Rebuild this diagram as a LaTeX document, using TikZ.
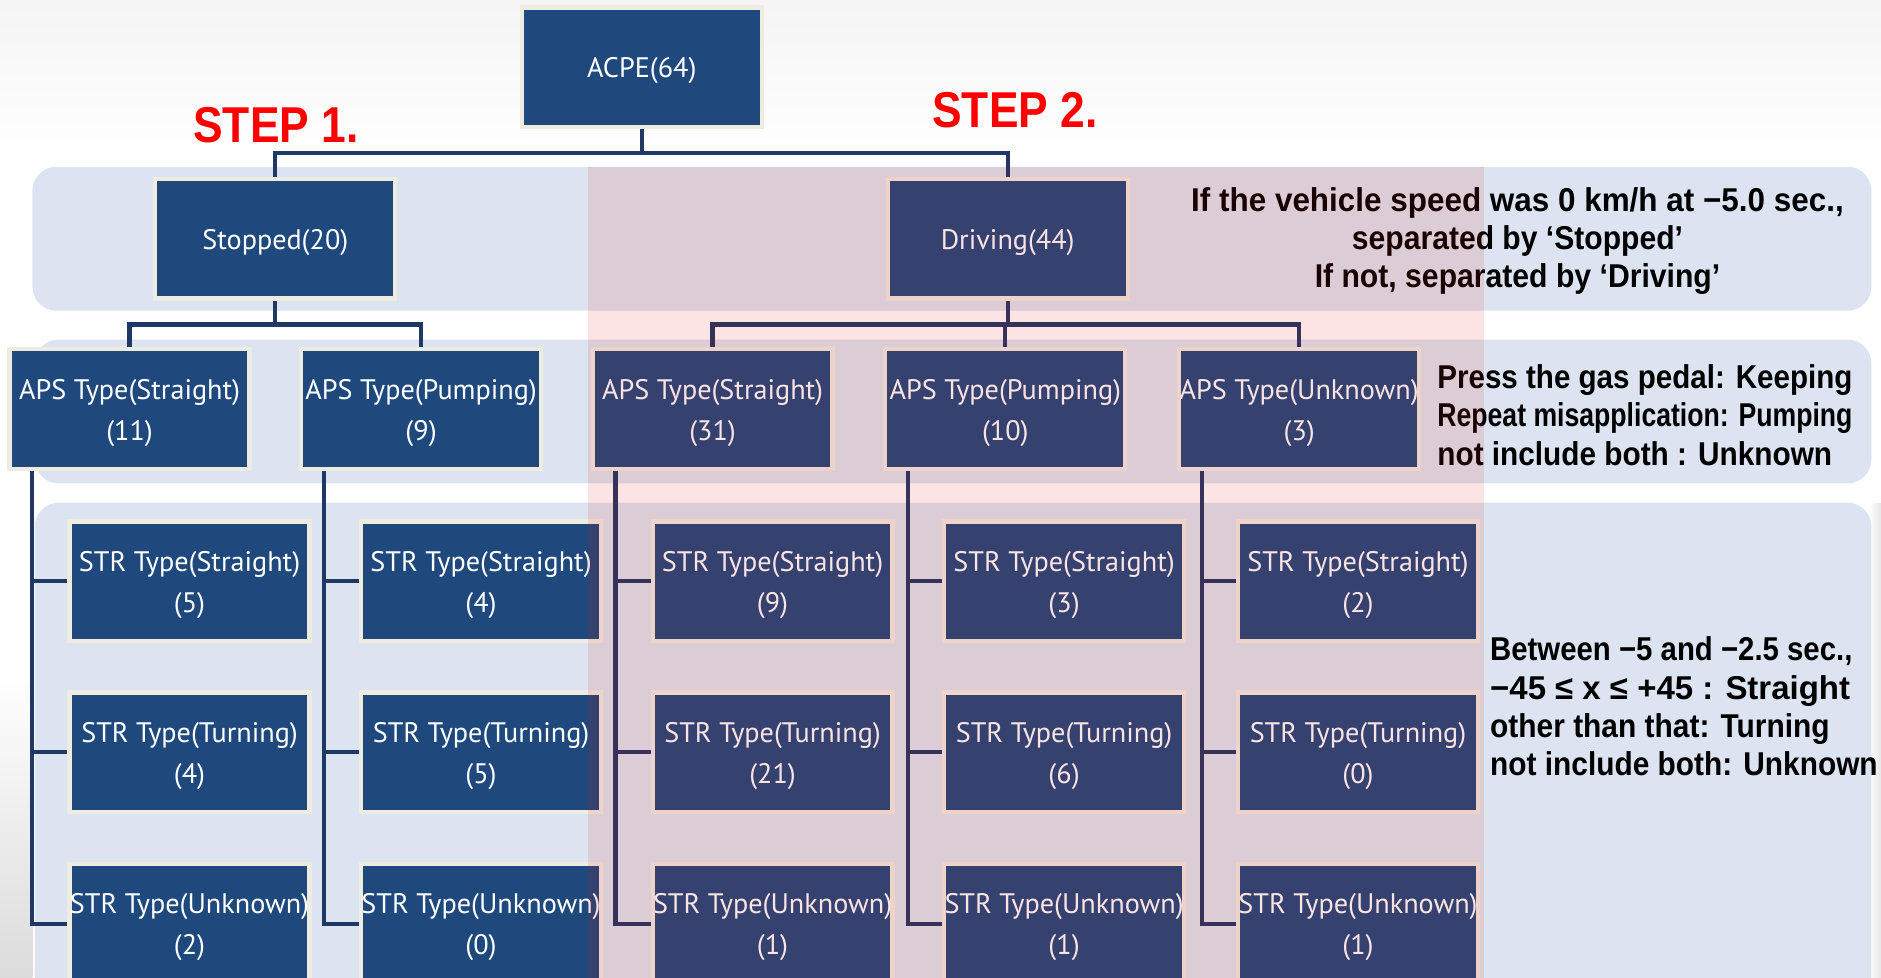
\documentclass[tikz,border=0pt]{standalone}
\usepackage{fontspec}
\usetikzlibrary{calc}
\newfontfamily\boxfont{PT Sans}
\newfontfamily\notefont[FakeStretch=0.93]{Liberation Sans}
\newfontfamily\stepfont[FakeStretch=0.88]{Liberation Sans}
\definecolor{boxblue}{HTML}{1F497D}
\definecolor{boxborder}{HTML}{EEECE1}
\definecolor{connblue}{HTML}{203864}
\definecolor{bandblue}{HTML}{DBE4F0}
\definecolor{overlayred}{RGB}{236,10,10}
\pgfdeclarelayer{bg}
\pgfdeclarelayer{lines}
\pgfdeclarelayer{fg}
\pgfsetlayers{bg,lines,main,fg}
\newcommand\fitw[2]{\resizebox{#1pt}{\height}{#2}}
\newcommand\bx[3]{%
  \node[box] (#1) at (#2) {};
  \node[boxtext] (#1-t) at ($(#1)+(0,3)$) {#3};
}
\tikzset{
  box/.style={draw=boxborder, line width=3.5pt, fill=boxblue,
    minimum width=200pt, minimum height=99.5pt, inner sep=0pt},
  boxtext/.style={text=white, inner sep=0pt, align=center,
    font=\boxfont\fontsize{23.5}{34}\selectfont},
  conn/.style={draw=connblue, line width=3.5pt},
  band/.style={fill=bandblue, rounded corners=20pt},
  note/.style={inner sep=0pt, text=black, font=\notefont\bfseries\fontsize{27.5}{32}\selectfont},
  steplabel/.style={inner sep=0pt, text=red, font=\stepfont\bfseries\fontsize{42}{42}\selectfont}
}
\begin{document}
\begin{tikzpicture}[x=1pt,y=-1pt]
\useasboundingbox (0,0) rectangle (1568,815);
\clip (0,0) rectangle (1568,815);
\begin{pgfonlayer}{bg}
\fill[white] (0,0) rectangle (1568,815);
\shade[top color=black!4, bottom color=white] (0,0) rectangle (1568,135);
\shade[top color=white, bottom color=black!14] (0,560) rectangle (27,815);
\shade[left color=white, right color=black!10] (1558,420) rectangle (1568,815);
\fill[band] (27,139) rectangle (1560,259);
\fill[band] (29,283) rectangle (1560,403);
\fill[band] (29,419) rectangle (1560,860);
\end{pgfonlayer}
% nodes
\bx{acpe}{535,56}{ACPE(64)}
\bx{stop}{229.5,199}{Stopped(20)}
\bx{drive}{840,199}{Driving(44)}
\bx{a1}{108,341}{APS Type(Straight)\\(11)}
\bx{a2}{351,341}{APS Type(Pumping)\\(9)}
\bx{a3}{594,341}{APS Type(Straight)\\(31)}
\bx{a4}{838,341}{APS Type(Pumping)\\(10)}
\bx{a5}{1083,341}{APS Type(Unknown)\\(3)}
\bx{s11}{158,484.5}{STR Type(Straight)\\(5)}
\bx{s12}{158,627}{STR Type(Turning)\\(4)}
\bx{s13}{158,770}{STR Type(Unknown)\\(2)}
\bx{s21}{401,484.5}{STR Type(Straight)\\(4)}
\bx{s22}{401,627}{STR Type(Turning)\\(5)}
\bx{s23}{401,770}{STR Type(Unknown)\\(0)}
\bx{s31}{644,484.5}{STR Type(Straight)\\(9)}
\bx{s32}{644,627}{STR Type(Turning)\\(21)}
\bx{s33}{644,770}{STR Type(Unknown)\\(1)}
\bx{s41}{887,484.5}{STR Type(Straight)\\(3)}
\bx{s42}{887,627}{STR Type(Turning)\\(6)}
\bx{s43}{887,770}{STR Type(Unknown)\\(1)}
\bx{s51}{1132,484.5}{STR Type(Straight)\\(2)}
\bx{s52}{1132,627}{STR Type(Turning)\\(0)}
\bx{s53}{1132,770}{STR Type(Unknown)\\(1)}
% connectors
\begin{pgfonlayer}{lines}
\coordinate (h0) at (0,127.5);
\draw[conn] (acpe.south) -- (acpe.south |- h0) -| (stop.north);
\draw[conn] (acpe.south |- h0) -| (drive.north);
\coordinate (h1) at (0,270.5);
\draw[conn] (stop.south) -- (stop.south |- h1) -| (a1.north);
\draw[conn] (stop.south |- h1) -| (a2.north);
\draw[conn] (drive.south) -- (drive.south |- h1) -| (a3.north);
\draw[conn] (drive.south |- h1) -| (a5.north);
\draw[conn] (drive.south |- h1) -| (a4.north);
\foreach \i in {1,2,3,4,5}{
  \coordinate (v\i) at ($(a\i.south)+(-81,0)$);
  \draw[conn] (v\i) |- (s\i3.west);
  \draw[conn] (v\i |- s\i1.west) -- (s\i1.west);
  \draw[conn] (v\i |- s\i2.west) -- (s\i2.west);
}
\end{pgfonlayer}
% labels
\node[steplabel, anchor=base] (step1) at (230,119) {STEP 1.};
\node[steplabel, anchor=base] (step2) at (846,106) {STEP 2.};
\node[note, align=center] (n1) at (1265,201) {\fitw{544}{If the vehicle speed was 0 km/h at −5.0 sec.,}\\\fitw{276}{separated by ‘Stopped’}\\\fitw{338}{If not, separated by ‘Driving’}};
\node[note, align=left, anchor=west] (n2) at (1198,346) {\fitw{346}{Press the gas pedal: Keeping}\\\fitw{346}{Repeat misapplication: Pumping}\\\fitw{329}{not include both : Unknown}};
\node[note, align=left, anchor=west] (n3) at (1242,589) {\fitw{302}{Between −5 and −2.5 sec.,}\\\fitw{300}{−45 ≤ x ≤ +45 : Straight}\\\fitw{283}{other than that: Turning}\\\fitw{323}{not include both: Unknown}};
\begin{pgfonlayer}{fg}
\fill[overlayred, opacity=0.11] (490,139) rectangle (1237,815);
\end{pgfonlayer}
\end{tikzpicture}
\end{document}
